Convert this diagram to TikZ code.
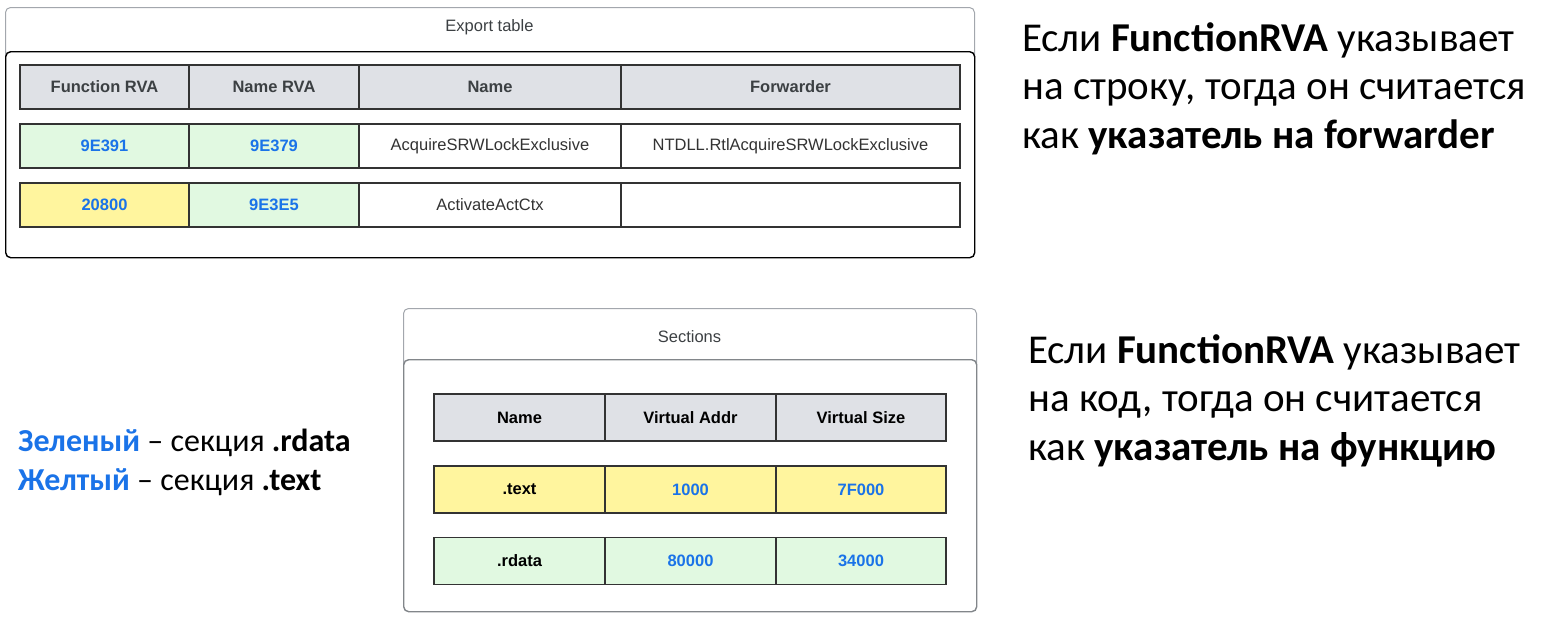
\documentclass[tikz,border=0pt]{standalone}
\usepackage{fontspec}
\setmainfont{Liberation Sans}
\newfontfamily\calibri{Carlito}
\definecolor{headfill}{HTML}{DFE1E6}
\definecolor{greenfill}{HTML}{E1F9E1}
\definecolor{yellowfill}{HTML}{FFF59E}
\definecolor{cellline}{HTML}{333333}
\definecolor{headtext}{HTML}{3C4043}
\definecolor{bodytext}{HTML}{333333}
\definecolor{addrblue}{HTML}{1A73E8}
\definecolor{boxgray}{HTML}{A3A7AD}
\tikzset{
  cell/.style={draw=cellline, line width=1.4pt, inner sep=0pt, text=bodytext,
    font=\fontsize{16.5}{19}\selectfont},
  head/.style={cell, fill=headfill, text=headtext, font=\fontsize{16.5}{19}\selectfont\bfseries},
  addr/.style={cell, text=addrblue, font=\fontsize{16.5}{19}\selectfont\bfseries},
  secname/.style={cell, text=black, font=\fontsize{16.5}{19}\selectfont\bfseries},
  titlebox/.style={draw=boxgray, line width=1pt, fill=white, rounded corners=5pt, inner sep=0pt, anchor=north west},
  framebox/.style={titlebox, line width=1.4pt},
  caption/.style={text=headtext, font=\fontsize{16.5}{19}\selectfont},
  note/.style={anchor=base west, inner sep=0pt, font=\calibri\fontsize{41}{48}\selectfont},
  legend/.style={anchor=base west, inner sep=0pt, font=\calibri\fontsize{32}{38}\selectfont},
}
\begin{document}
\begin{tikzpicture}[x=1pt, y=-1pt]
\useasboundingbox (0,0) rectangle (1560,627);
% Export table
\node[titlebox, minimum width=969, minimum height=60] (E_title) at (5,7) {};
\node[caption] (E_caption) at (489.5,27) {Export table};
\node[framebox, draw=black, minimum width=969, minimum height=206] (E_frame) at (5,51) {};
\node[head, minimum width=169, minimum height=44] (E_0_0) at (104.5,87) {Function RVA};
\node[head, minimum width=170, minimum height=44] (E_0_1) at (274,87) {Name RVA};
\node[head, minimum width=262, minimum height=44] (E_0_2) at (490,87) {Name};
\node[head, minimum width=339, minimum height=44] (E_0_3) at (790.5,87) {Forwarder};
\node[addr, fill=greenfill, minimum width=169, minimum height=44] (E_1_0) at (104.5,146) {9E391};
\node[addr, fill=greenfill, minimum width=170, minimum height=44] (E_1_1) at (274,146) {9E379};
\node[cell, fill=white, minimum width=262, minimum height=44] (E_1_2) at (490,146) {AcquireSRWLockExclusive};
\node[cell, fill=white, minimum width=339, minimum height=44] (E_1_3) at (790.5,146) {NTDLL.RtlAcquireSRWLockExclusive};
\node[addr, fill=yellowfill, minimum width=169, minimum height=44] (E_2_0) at (104.5,205) {20800};
\node[addr, fill=greenfill, minimum width=170, minimum height=44] (E_2_1) at (274,205) {9E3E5};
\node[cell, fill=white, minimum width=262, minimum height=44] (E_2_2) at (490,205) {ActivateActCtx};
\node[cell, fill=white, minimum width=339, minimum height=44] (E_2_3) at (790.5,205) {};
% Sections
\node[titlebox, minimum width=573, minimum height=60] (S_title) at (403,308) {};
\node[caption] (S_caption) at (689.5,337) {Sections};
\node[framebox, draw=boxgray!80!black, minimum width=573, minimum height=252] (S_frame) at (403,359) {};
\node[secname, fill=headfill, minimum width=171, minimum height=47] (S_0_0) at (519.5,417.5) {Name};
\node[secname, fill=headfill, minimum width=171, minimum height=47] (S_0_1) at (690.5,417.5) {Virtual Addr};
\node[secname, fill=headfill, minimum width=170, minimum height=47] (S_0_2) at (861,417.5) {Virtual Size};
\node[secname, fill=yellowfill, minimum width=171, minimum height=47] (S_1_0) at (519.5,489.5) {.text};
\node[addr, fill=yellowfill, minimum width=171, minimum height=47] (S_1_1) at (690.5,489.5) {1000};
\node[addr, fill=yellowfill, minimum width=170, minimum height=47] (S_1_2) at (861,489.5) {7F000};
\node[secname, fill=greenfill, minimum width=171, minimum height=47] (S_2_0) at (519.5,561) {.rdata};
\node[addr, fill=greenfill, minimum width=171, minimum height=47] (S_2_1) at (690.5,561) {80000};
\node[addr, fill=greenfill, minimum width=170, minimum height=47] (S_2_2) at (861,561) {34000};
% notes
\node[note] (N_1_0) at (1022,51) {Если \textbf{FunctionRVA} указывает};
\node[note] (N_1_1) at (1022,99) {на строку, тогда он считается};
\node[note] (N_1_2) at (1022,148) {как \textbf{указатель на forwarder}};
\node[note] (N_2_0) at (1028,363) {Если \textbf{FunctionRVA} указывает};
\node[note] (N_2_1) at (1028,411) {на код, тогда он считается};
\node[note] (N_2_2) at (1028,460) {как \textbf{указатель на функцию}};
\node[legend] (L_0) at (18,451) {\textbf{\color{addrblue}Зеленый} – секция \textbf{.rdata}};
\node[legend] (L_1) at (18,490) {\textbf{\color{addrblue}Желтый} – секция \textbf{.text}};
\end{tikzpicture}
\end{document}
